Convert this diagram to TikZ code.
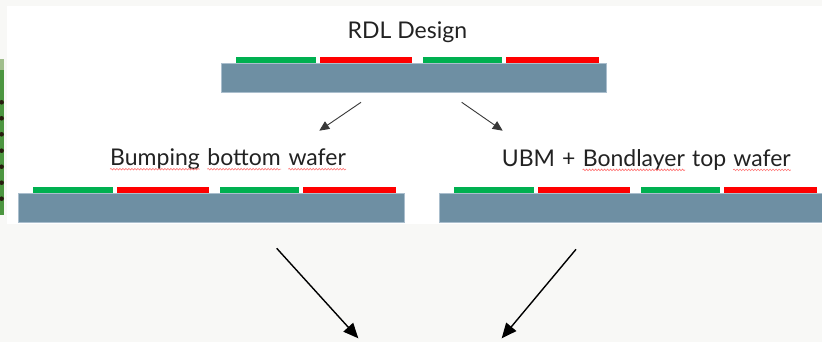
\documentclass[tikz,border=0pt]{standalone}
\usepackage{fontspec}
\setmainfont{Lato}
\usetikzlibrary{arrows.meta,decorations.pathmorphing}

\definecolor{pagebg}{RGB}{248,248,246}
\definecolor{waferc}{RGB}{110,143,163}
\definecolor{waferedge}{RGB}{170,190,205}
\definecolor{padgreen}{RGB}{0,176,80}
\definecolor{padred}{RGB}{255,0,0}
\definecolor{inkc}{RGB}{34,34,34}
\definecolor{stripgreen}{RGB}{76,150,64}
\definecolor{stripgreenlt}{RGB}{160,190,140}
\definecolor{stripdot}{RGB}{40,28,14}

\tikzset{
  wafer/.style={fill=waferc, draw=waferedge, line width=0.6pt, inner sep=0pt,
    minimum height=29pt, anchor=north west},
  word/.style={inner sep=0pt, anchor=base west, text=inkc,
    font=\fontsize{23}{26}\selectfont},
  spellmark/.style={draw=red!55, line width=0.6pt,
    decorate, decoration={snake, segment length=3pt, amplitude=0.8pt}},
  smallarrow/.style={draw=inkc!90, line width=0.9pt,
    -{Triangle[length=10pt,width=9pt]}},
  bigarrow/.style={draw=black, line width=1.4pt,
    -{Triangle[length=15pt,width=13pt]}},
  pics/padstack/.style={code={
    \fill[padgreen] (15,-6)    rectangle ++(79.5,6);
    \fill[padred]   (98.5,-6)  rectangle ++(92.5,6);
    \fill[padgreen] (201.5,-6) rectangle ++(79.5,6);
    \fill[padred]   (285,-6)   rectangle ++(93,6);
  }}
}

\begin{document}
\begin{tikzpicture}[x=1pt, y=-1pt]
  \useasboundingbox (0,0) rectangle (822,342);
  \fill[pagebg] (0,0) rectangle (822,342);
  \fill[white] (7,6) rectangle (822,224);

  % edge of a neighbouring sheet on the left
  \fill[stripgreen] (0,59) rectangle (3.6,215);
  \fill[stripgreenlt] (0,59) rectangle (3.6,70);
  \foreach \yy in {102.3,118.3,134.3,150.7,166.7,182.7,198.7}
    \fill[stripdot] (1.6,\yy) circle (2.3);

  % RDL design wafer
  \node[word] (rdl) at (347.5,38.3) {RDL Design};
  \node[wafer, minimum width=385pt] (topw) at (221,62.7) {};
  \pic at (topw.north west) {padstack};

  % bottom wafer
  \node[word] (b1) at (110,166) {Bumping};
  \node[word] (b2) at ([xshift=7.3pt]b1.base east) {bottom};
  \node[word] (b3) at ([xshift=7.3pt]b2.base east) {wafer};
  \foreach \w in {b1,b2,b3}
    \draw[spellmark] ([yshift=-3.2pt]\w.base west) -- ([yshift=-3.2pt]\w.base east);
  \node[wafer, minimum width=385.4pt] (botw) at (18.3,193.3) {};
  \pic at (botw.north west) {padstack};

  % top wafer
  \node[word] (t1) at (501.7,166.7) {UBM};
  \node[word] (t2) at ([xshift=6.8pt]t1.base east) {+};
  \node[word] (t3) at ([xshift=6.8pt]t2.base east) {Bondlayer};
  \node[word] (t4) at ([xshift=6.8pt]t3.base east) {top};
  \node[word] (t5) at ([xshift=6.8pt]t4.base east) {wafer};
  \foreach \w in {t3,t5}
    \draw[spellmark] ([yshift=-3.2pt]\w.base west) -- ([yshift=-3.2pt]\w.base east);
  \node[wafer, minimum width=382.7pt] (topwf) at (439.3,193.3) {};
  \pic at (topwf.north west) {padstack};

  % split arrows
  \coordinate (sl0) at (361,102.3);   \coordinate (sl1) at (319.3,130.7);
  \coordinate (sr0) at (461.7,102.3); \coordinate (sr1) at (502.7,130.7);
  \draw[smallarrow] (sl0) -- (sl1);
  \draw[smallarrow] (sr0) -- (sr1);

  % merge arrows
  \coordinate (ml0) at (276.7,248.3); \coordinate (ml1) at (358.3,338.3);
  \coordinate (mr0) at (576,249.3);   \coordinate (mr1) at (501.7,338.3);
  \draw[bigarrow] (ml0) -- (ml1);
  \draw[bigarrow] (mr0) -- (mr1);
\end{tikzpicture}
\end{document}
